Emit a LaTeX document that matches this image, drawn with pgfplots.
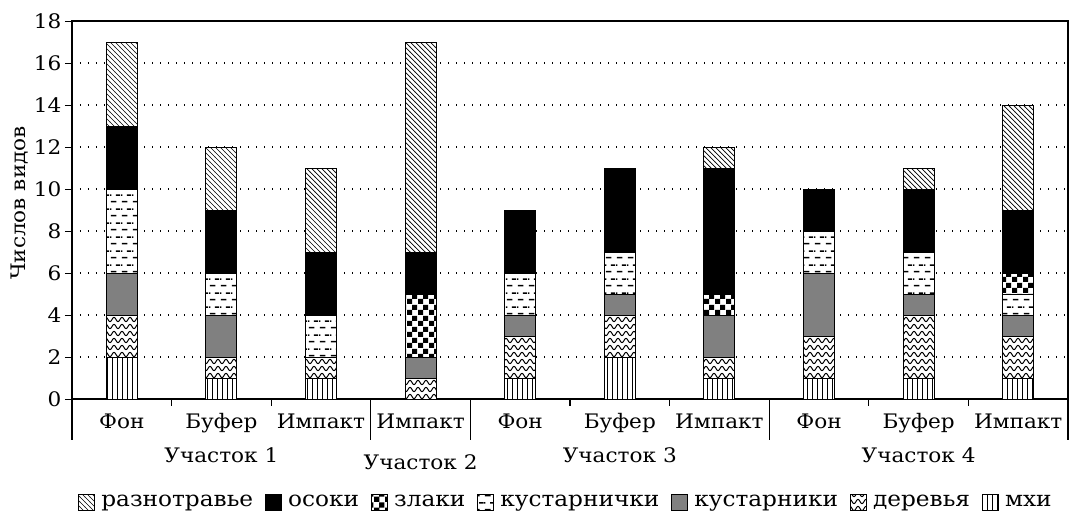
\documentclass[border=0pt]{standalone}
\usepackage{pgfplots}
\pgfplotsset{compat=1.18}
\usepackage{fontspec}
\setmainfont{DejaVu Serif}[FakeStretch=1.08]
\usetikzlibrary{patterns}

% custom patterns
\pgfdeclarepatternformonly{nwl}{\pgfqpoint{-1pt}{-1pt}}{\pgfqpoint{6pt}{6pt}}{\pgfqpoint{5pt}{5pt}}{%
  \pgfsetlinewidth{0.7pt}%
  \pgfpathmoveto{\pgfqpoint{-0.1pt}{5.1pt}}\pgfpathlineto{\pgfqpoint{5.1pt}{-0.1pt}}\pgfusepath{stroke}}
\pgfdeclarepatternformonly{checker}{\pgfpointorigin}{\pgfqpoint{11pt}{11pt}}{\pgfqpoint{11pt}{11pt}}{%
  \pgfpathrectangle{\pgfpointorigin}{\pgfqpoint{5.6pt}{5.6pt}}%
  \pgfpathrectangle{\pgfqpoint{5.5pt}{5.5pt}}{\pgfqpoint{5.5pt}{5.5pt}}%
  \pgfusepath{fill}}
\pgfdeclarepatternformonly{dashes}{\pgfpointorigin}{\pgfqpoint{11pt}{14pt}}{\pgfqpoint{11pt}{14pt}}{%
  \pgfsetlinewidth{1.6pt}%
  \pgfpathmoveto{\pgfqpoint{1pt}{3.5pt}}\pgfpathlineto{\pgfqpoint{7pt}{3.5pt}}%
  \pgfpathmoveto{\pgfqpoint{6.5pt}{10.5pt}}\pgfpathlineto{\pgfqpoint{11pt}{10.5pt}}%
  \pgfpathmoveto{\pgfqpoint{0pt}{10.5pt}}\pgfpathlineto{\pgfqpoint{1.5pt}{10.5pt}}%
  \pgfusepath{stroke}}
\pgfdeclarepatternformonly{waves}{\pgfqpoint{-1pt}{0pt}}{\pgfqpoint{9pt}{7pt}}{\pgfqpoint{8pt}{7pt}}{%
  \pgfsetlinewidth{1pt}%
  \pgfpathmoveto{\pgfqpoint{0pt}{3.5pt}}%
  \pgfpathcurveto{\pgfqpoint{1.33pt}{6.3pt}}{\pgfqpoint{2.67pt}{6.3pt}}{\pgfqpoint{4pt}{3.5pt}}%
  \pgfpathcurveto{\pgfqpoint{5.33pt}{0.7pt}}{\pgfqpoint{6.67pt}{0.7pt}}{\pgfqpoint{8pt}{3.5pt}}%
  \pgfusepath{stroke}}
\pgfdeclarepatternformonly{vlines}{\pgfqpoint{0pt}{-1pt}}{\pgfqpoint{5pt}{6pt}}{\pgfqpoint{5pt}{5pt}}{%
  \pgfsetlinewidth{0.8pt}%
  \pgfpathmoveto{\pgfqpoint{2.5pt}{-1pt}}\pgfpathlineto{\pgfqpoint{2.5pt}{6pt}}\pgfusepath{stroke}}

\newcommand{\lblfont}{\fontsize{20}{23}\selectfont}
\newcommand{\legfont}{\fontsize{21.5}{24}\selectfont}

\begin{document}
\begin{tikzpicture}
\path[use as bounding box] (-72pt,-113pt) rectangle (1011pt,399pt);
\begin{axis}[
  at={(0pt,0pt)}, anchor=south west,
  scale only axis, width=996pt, height=378pt,
  ybar stacked, bar width=31pt,
  xmin=0.5, xmax=10.5, ymin=0, ymax=18,
  xtick={1,...,10},
  xticklabels={Фон,Буфер,Импакт,Импакт,Фон,Буфер,Импакт,Фон,Буфер,Импакт},
  x tick style={draw=none},
  xticklabel style={yshift=-4pt},
  ytick={0,2,...,18},
  ytick pos=left, tick align=outside, major tick length=7pt,
  y tick style={line width=1pt, black},
  axis line style={line width=1.3pt},
  ymajorgrids, grid style={line width=1.1pt, dash pattern=on 1.1pt off 6.9pt, black},
  /pgf/number format/assume math mode=true,
  tick label style={font=\lblfont},
  ylabel={Числов видов},
  ylabel style={font=\lblfont, at={(axis description cs:-0.0522,0.5185)}, anchor=center},
  clip=false,
  reverse legend,
  legend columns=7,
  legend style={draw=none, font=\legfont, at={(axis description cs:0.496,0)}, anchor=center, yshift=-103pt,
    inner sep=0pt,
    nodes={inner xsep=2pt, inner ysep=1pt},
    /tikz/every odd column/.append style={column sep=4pt},
    /tikz/every even column/.append style={column sep=10pt}},
  mylegend/.style={legend image code/.code={\draw[##1] (0pt,-8pt) rectangle (16pt,8pt);}},
]
\addplot[draw=black, line width=1pt, fill=white, postaction={pattern=vlines}, mylegend] coordinates
 {(1,2) (2,1) (3,1) (4,0) (5,1) (6,2) (7,1) (8,1) (9,1) (10,1)};
\addplot[draw=black, line width=1pt, fill=white, postaction={pattern=waves}, mylegend] coordinates
 {(1,2) (2,1) (3,1) (4,1) (5,2) (6,2) (7,1) (8,2) (9,3) (10,2)};
\addplot[draw=black, line width=1pt, fill=black!50, mylegend] coordinates
 {(1,2) (2,2) (3,0) (4,1) (5,1) (6,1) (7,2) (8,3) (9,1) (10,1)};
\addplot[draw=black, line width=1pt, fill=white, postaction={pattern=dashes}, mylegend] coordinates
 {(1,4) (2,2) (3,2) (4,0) (5,2) (6,2) (7,0) (8,2) (9,2) (10,1)};
\addplot[draw=black, line width=1pt, fill=white, postaction={pattern=checker}, mylegend] coordinates
 {(1,0) (2,0) (3,0) (4,3) (5,0) (6,0) (7,1) (8,0) (9,0) (10,1)};
\addplot[draw=black, line width=1pt, fill=black, mylegend] coordinates
 {(1,3) (2,3) (3,3) (4,2) (5,3) (6,4) (7,6) (8,2) (9,3) (10,3)};
\addplot[draw=black, line width=1pt, fill=white, postaction={pattern=nwl}, mylegend] coordinates
 {(1,4) (2,3) (3,4) (4,10) (5,0) (6,0) (7,1) (8,0) (9,1) (10,5)};
\legend{мхи,деревья,кустарники,кустарнички,злаки,осоки,разнотравье}

% group separators
\draw[line width=1.2pt] (axis cs:0.5,0) -- ++(0pt,-41pt);
\draw[line width=1.2pt] (axis cs:3.5,0) -- ++(0pt,-41pt);
\draw[line width=1.2pt] (axis cs:4.5,0) -- ++(0pt,-41pt);
\draw[line width=1.2pt] (axis cs:7.5,0) -- ++(0pt,-41pt);
\draw[line width=1.2pt] (axis cs:10.5,0) -- ++(0pt,-41pt);
\draw[line width=1.2pt] (axis cs:1.5,0) -- ++(0pt,-7pt);
\draw[line width=1.2pt] (axis cs:2.5,0) -- ++(0pt,-7pt);
\draw[line width=1.2pt] (axis cs:5.5,0) -- ++(0pt,-7pt);
\draw[line width=1.2pt] (axis cs:6.5,0) -- ++(0pt,-7pt);
\draw[line width=1.2pt] (axis cs:8.5,0) -- ++(0pt,-7pt);
\draw[line width=1.2pt] (axis cs:9.5,0) -- ++(0pt,-7pt);
% group labels
\node[font=\lblfont] at ([yshift=-56pt]axis cs:2,0) {Участок 1};
\node[font=\lblfont] at ([yshift=-63pt]axis cs:4,0) {Участок 2};
\node[font=\lblfont] at ([yshift=-56pt]axis cs:6,0) {Участок 3};
\node[font=\lblfont] at ([yshift=-56pt]axis cs:9,0) {Участок 4};
\end{axis}
\end{tikzpicture}
\end{document}
